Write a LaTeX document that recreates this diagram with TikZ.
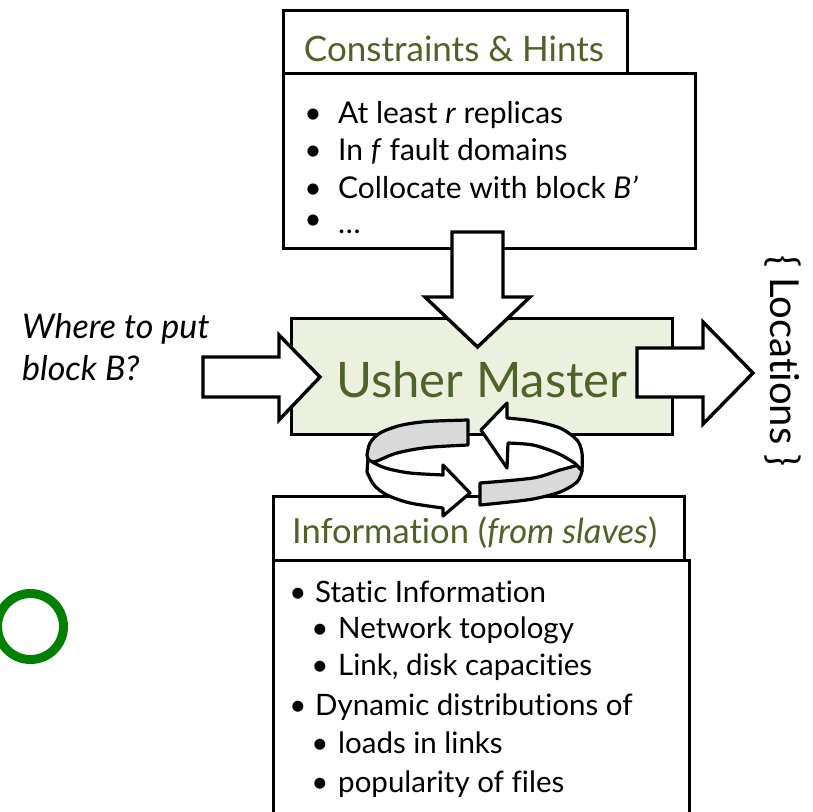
\documentclass[tikz,border=0pt]{standalone}
\usepackage{fontspec}
\setmainfont{Lato}[Ligatures={NoCommon,NoContextual}]
\definecolor{olivetext}{RGB}{79,98,40}
\definecolor{masterfill}{RGB}{235,241,222}
\definecolor{ringfill}{RGB}{217,217,217}
\definecolor{markgreen}{RGB}{0,128,0}
\newcommand\fsz[1]{\fontsize{#1pt}{#1pt}\selectfont}
\begin{document}
\begin{tikzpicture}[x=1pt,y=-1pt,
  frame/.style={draw=black, line width=3.4pt, fill=white, inner sep=0pt, anchor=north west},
  blockarrow/.style={draw=black, line width=3.4pt, fill=white, line join=miter, miter limit=10},
  ringpart/.style={draw=black, line width=3.2pt, line join=round},
  txt/.style={inner sep=0pt, anchor=base west},
  bul/.style={inner sep=0pt, anchor=base},
  head/.style={inner sep=0pt, text=olivetext}]
\useasboundingbox (0,0) rectangle (813,811);
\clip (0,0) rectangle (813,811);

% ---- constraints box ----
\node[frame, minimum width=412pt, minimum height=175pt] (chbody) at (282,72) {};
\node[frame, minimum width=344pt, minimum height=63pt] (chtitle) at (282,9) {};
\node[head, anchor=base] (chhead) at (454,61) {\fsz{35}Constraints \& Hints};
\node[bul] (cb1) at (313,123) {\fsz{30}•};
\node[txt] (ct1) at (338,123) {\fsz{30}At least \textit{r} replicas};
\node[bul] (cb2) at (313,160) {\fsz{30}•};
\node[txt] (ct2) at (338,160) {\fsz{30}In \textit{f} fault domains};
\node[bul] (cb3) at (313,198) {\fsz{30}•};
\node[txt] (ct3) at (338,198) {\fsz{30}Collocate with block \textit{B’}};
\node[bul] (cb4) at (313,229) {\fsz{30}•};
\node[txt] (ct4) at (338,233) {\fsz{30}…};

% ---- master box ----
\node[frame, fill=masterfill, minimum width=381pt, minimum height=116pt] (master) at (290,317) {};
\node[head, anchor=base] (mastertext) at (482,397) {\fsz{49}Usher Master};

% ---- information box ----
\node[frame, minimum width=416pt, minimum height=300pt] (infobody) at (272,559) {};
\node[frame, minimum width=411pt, minimum height=64pt] (infotitle) at (272,495) {};
\node[head, anchor=base west] (infohead) at (292,543) {\fsz{34.5}Information (\textit{from slaves})};
\node[bul] (ib1) at (298,602) {\fsz{29.5}•};
\node[txt] (it1) at (315,602) {\fsz{29.5}Static Information};
\node[bul] (ib2) at (320,638) {\fsz{29.5}•};
\node[txt] (it2) at (338,638) {\fsz{29.5}Network topology};
\node[bul] (ib3) at (320,675) {\fsz{29.5}•};
\node[txt] (it3) at (338,675) {\fsz{29.5}Link, disk capacities};
\node[bul] (ib4) at (298,715) {\fsz{29.5}•};
\node[txt] (it4) at (315,715) {\fsz{29.5}Dynamic distributions of};
\node[bul] (ib5) at (320,753) {\fsz{29.5}•};
\node[txt] (it5) at (338,753) {\fsz{29.5}loads in links};
\node[bul] (ib6) at (320,792) {\fsz{29.5}•};
\node[txt] (it6) at (338,792) {\fsz{29.5}popularity of files};

% ---- request and answer ----
\node[txt] (ask1) at (22,338) {\fsz{34}\itshape Where to put};
\node[txt] (ask2) at (22,380) {\fsz{34}\itshape block B?};
\node[inner sep=0pt, rotate=-90] (loc) at (783,361) {\fsz{40}\{ Locations \}};

% ---- block arrows ----
\draw[blockarrow] (452,232) -- (503,232) -- (503,297) -- (530,297) -- (477.5,347)
  -- (425,297) -- (452,297) -- cycle;
\draw[blockarrow] (203,357) -- (279,357) -- (279,335) -- (320,377) -- (279,420)
  -- (279,397) -- (203,397) -- cycle;
\draw[blockarrow] (637,348) -- (703,348) -- (703,322) -- (753,373) -- (703,424)
  -- (703,397) -- (637,397) -- cycle;

% ---- circular exchange arrows ----
\draw[ringpart, fill=ringfill] (367,455)
  -- plot[smooth] coordinates {(367,455) (370,443) (380,433) (400,425.5) (427,421.5) (468,420)}
  -- (468,445)
  -- plot[smooth] coordinates {(468,445) (427,447.5) (397,453) (377,461) (369,463)}
  -- cycle;
\draw[ringpart, fill=white] (368,459)
  -- plot[smooth] coordinates {(368,459) (374,463) (387,468.5) (410,473) (443,475)}
  -- (443,465) -- (470,493) -- (443,516) -- (443,508)
  -- plot[smooth] coordinates {(443,508) (410,503) (387,495) (374,485) (367,472)}
  -- cycle;
\draw[ringpart, fill=white] (481,430) -- (507,403) -- (507,418)
  -- plot[smooth] coordinates {(507,418) (533,421) (560,428) (577,440) (582,453) (582,471)}
  -- (577,465.5)
  -- plot[smooth] coordinates {(577,465.5) (573,462) (557,453) (533,445) (508,443)}
  -- (507,468) -- cycle;
\draw[ringpart, fill=ringfill] (480,483)
  -- plot[smooth] coordinates {(480,483) (533,478) (560,470) (577,465.5)}
  -- (582,471)
  -- plot[smooth] coordinates {(582,471) (577,482) (560,492) (533,499) (500,503) (480,505)}
  -- cycle;

% ---- green mark ----
\node[circle, draw=markgreen, line width=9pt, minimum size=66pt, inner sep=0pt] (mark) at (30.5,626.5) {};
\end{tikzpicture}
\end{document}
